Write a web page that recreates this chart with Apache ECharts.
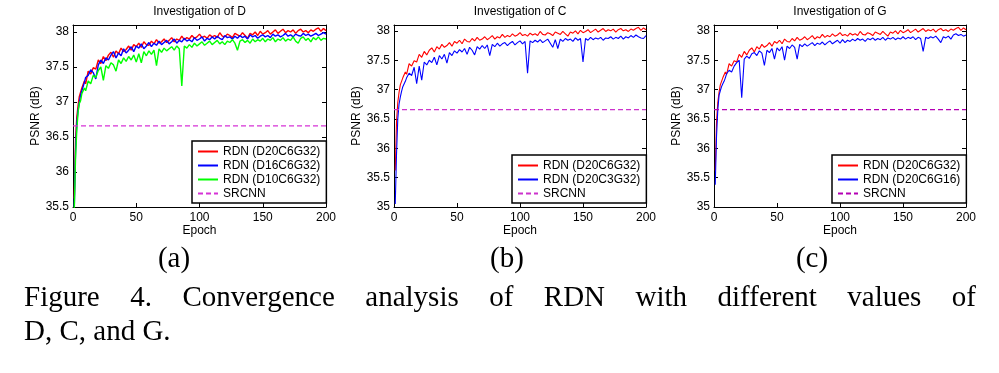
<!DOCTYPE html>
<html><head><meta charset="utf-8">
<script src="https://cdn.jsdelivr.net/npm/echarts@6/dist/echarts.min.js"></script>
<style>html,body{margin:0;padding:0;background:#fff}#c{width:999px;height:373px}</style>
</head><body><div id="c"></div><script>
// ---------------- DATA ----------------
const epochs = [1,2,3,4,5,6,7,8,9,10,
 12,14,16,18,20,22,24,26,28,30,
 32,34,36,38,40,42,44,46,48,50,
 52,54,56,58,60,62,64,66,68,70,
 72,74,76,78,80,82,84,86,88,90,
 92,94,96,98,100,102,104,106,108,110,
 112,114,116,118,120,122,124,126,128,130,
 132,134,136,138,140,142,144,146,148,150,
 152,154,156,158,160,162,164,166,168,170,
 172,174,176,178,180,182,184,186,188,190,
 192,194,196,198,200];

// RDN (D20C6G32) - the same model in all three panels
const rdnD20C6G32 = [35.62,36.45,36.78,36.95,37.08,37.06,37.2,37.22,37.3,37.26,
 37.44,37.4,37.49,37.47,37.6,37.55,37.65,37.59,37.67,37.71,
 37.64,37.73,37.69,37.77,37.72,37.75,37.8,37.74,37.82,37.79,
 37.84,37.78,37.86,37.82,37.81,37.87,37.83,37.89,37.84,37.86,
 37.9,37.85,37.88,37.92,37.86,37.9,37.88,37.94,37.89,37.92,
 37.9,37.95,37.91,37.93,37.97,37.92,37.94,37.91,37.96,37.93,
 37.95,37.92,37.99,37.94,37.93,37.97,37.95,37.92,37.98,37.96,
 37.94,37.99,37.95,37.91,37.98,37.96,38.0,37.95,38.01,37.97,
 37.99,38.02,37.97,38.0,38.03,37.98,38.01,38.04,37.99,38.02,
 38.0,38.03,37.98,38.02,38.04,38.0,38.02,37.99,38.03,38.01,
 38.04,38.06,38.01,38.05,38.02];

const rdnD16C6G32 = [35.5,36.3,36.7,36.88,36.9,37.1,37.12,37.22,37.28,37.35,
 37.38,37.46,37.42,37.33,37.53,37.6,37.55,37.63,37.6,37.67,
 37.72,37.63,37.7,37.66,37.76,37.7,37.74,37.79,37.72,37.8,
 37.77,37.83,37.76,37.8,37.85,37.79,37.84,37.81,37.87,37.82,
 37.85,37.88,37.83,37.86,37.9,37.84,37.88,37.86,37.91,37.87,
 37.89,37.86,37.92,37.88,37.9,37.93,37.87,37.91,37.89,37.93,
 37.9,37.94,37.91,37.89,37.95,37.92,37.93,37.9,37.94,37.91,
 37.95,37.92,37.94,37.9,37.96,37.93,37.95,37.91,37.94,37.96,
 37.93,37.95,37.92,37.97,37.94,37.96,37.93,37.95,37.98,37.94,
 37.96,37.93,37.97,37.95,37.94,37.98,37.95,37.97,37.94,37.96,
 37.98,37.95,37.97,37.99,37.97];

const rdnD10C6G32 = [35.45,36.2,36.6,36.85,36.98,37.02,37.12,37.1,37.2,37.16,
 37.3,37.26,37.38,37.35,37.45,37.5,37.31,37.52,37.48,37.56,
 37.53,37.44,37.6,37.55,37.63,37.58,37.65,37.6,37.67,37.57,
 37.69,37.56,37.72,37.66,37.73,37.68,37.74,37.52,37.76,37.71,
 37.77,37.73,37.76,37.79,37.74,37.8,37.76,37.23,37.8,37.77,
 37.82,37.78,37.84,37.8,37.83,37.86,37.81,37.84,37.87,37.82,
 37.85,37.88,37.83,37.86,37.82,37.87,37.85,37.89,37.84,37.74,
 37.87,37.89,37.85,37.88,37.84,37.9,37.86,37.89,37.87,37.91,
 37.86,37.9,37.88,37.92,37.86,37.9,37.88,37.92,37.87,37.9,
 37.88,37.93,37.87,37.84,37.91,37.93,37.88,37.91,37.86,37.92,
 37.89,37.93,37.88,37.91,37.9];

const rdnD20C3G32 = [35.05,35.9,36.5,36.75,36.87,36.97,37.05,37.02,37.14,37.2,
 37.28,37.24,37.38,37.1,37.4,37.16,37.47,37.42,37.5,37.46,
 37.55,37.42,37.58,37.52,37.6,37.45,37.63,37.58,37.66,37.62,
 37.68,37.64,37.7,37.6,37.72,37.67,37.59,37.73,37.69,37.75,
 37.7,37.76,37.58,37.77,37.73,37.79,37.74,37.78,37.8,37.75,
 37.79,37.82,37.76,37.8,37.83,37.78,37.82,37.28,37.83,37.8,
 37.84,37.81,37.85,37.8,37.83,37.86,37.79,37.72,37.85,37.7,
 37.86,37.82,37.87,37.84,37.86,37.82,37.88,37.84,37.87,37.47,
 37.87,37.84,37.89,37.85,37.88,37.86,37.89,37.84,37.88,37.87,
 37.9,37.86,37.89,37.87,37.91,37.86,37.9,37.88,37.92,37.89,
 37.93,37.9,37.88,37.87,37.92];

const rdnD20C6G16 = [35.38,36.2,36.65,36.9,36.98,37.05,37.1,37.14,37.2,37.27,
 37.33,37.3,37.4,37.46,37.5,36.86,37.52,37.57,37.53,37.61,
 37.63,37.58,37.66,37.62,37.41,37.67,37.63,37.7,37.52,37.71,
 37.66,37.73,37.5,37.74,37.7,37.76,37.72,37.52,37.77,37.73,
 37.78,37.74,37.77,37.8,37.75,37.79,37.77,37.81,37.76,37.8,
 37.83,37.78,37.81,37.84,37.79,37.85,37.8,37.84,37.82,37.86,
 37.83,37.87,37.84,37.86,37.82,37.87,37.85,37.88,37.84,37.87,
 37.85,37.89,37.84,37.88,37.86,37.89,37.85,37.88,37.86,37.9,
 37.86,37.89,37.87,37.9,37.85,37.89,37.87,37.65,37.89,37.87,
 37.9,37.88,37.91,37.86,37.8,37.9,37.88,37.91,37.86,37.93,
 37.95,37.92,37.94,37.91,37.93];

const srcnnEpochs = [0, 200];
const srcnnPSNR = [36.66, 36.66];

const panelTitles = ['Investigation of D', 'Investigation of C', 'Investigation of G'];
const panelLetters = ['(a)', '(b)', '(c)'];
const xTicks = {min: 0, max: 200, interval: 50};
const yTicksA = {min: 35.5, max: 38.1, interval: 0.5};
const yTicksBC = {min: 35, max: 38.1, interval: 0.5};
const captionLine1 = 'Figure 4. Convergence analysis of RDN with different values of';
const captionLine2 = 'D, C, and G.';

// ---------------- CHART ----------------
const SANS = '"Liberation Sans", Arial, Helvetica, sans-serif';
const SERIF = '"Liberation Serif", "Times New Roman", serif';
const pairs = (xs, ys) => xs.map((x, i) => [x, ys[i]]);

const grids = [
  {left: 73, top: 25, width: 253, height: 182},
  {left: 394, top: 25, width: 252, height: 182},
  {left: 714, top: 25, width: 252, height: 182}
];
const nameGaps = [29, 30, 30];

const xAxis = [], yAxis = [];
grids.forEach((g, gi) => {
  [false, true].forEach(top => {
    xAxis.push({
      type: 'value', gridIndex: gi, position: top ? 'top' : 'bottom',
      min: xTicks.min, max: xTicks.max, interval: xTicks.interval,
      axisLine: {show: true, onZero: false, lineStyle: {color: '#000', width: 1}},
      axisTick: {show: true, inside: true, length: 4, lineStyle: {color: '#000', width: 1}},
      axisLabel: {show: !top, color: '#000', fontSize: 12, fontFamily: SANS, margin: 5},
      splitLine: {show: false},
      name: top ? '' : 'Epoch', nameLocation: 'middle', nameGap: 15,
      nameTextStyle: {color: '#000', fontSize: 12, fontFamily: SANS}
    });
  });
  const yt = gi === 0 ? yTicksA : yTicksBC;
  [false, true].forEach(right => {
    yAxis.push({
      type: 'value', gridIndex: gi, position: right ? 'right' : 'left',
      min: yt.min, max: yt.max, interval: yt.interval,
      axisLine: {show: true, onZero: false, lineStyle: {color: '#000', width: 1}},
      axisTick: {show: true, inside: true, length: 4, lineStyle: {color: '#000', width: 1}},
      axisLabel: {show: !right, color: '#000', fontSize: 12, fontFamily: SANS, margin: 4,
        showMaxLabel: false,
        formatter: v => (Math.abs(v / 0.5 - Math.round(v / 0.5)) < 1e-6 ? String(+v.toFixed(1)) : '')},
      splitLine: {show: false},
      name: right ? '' : 'PSNR (dB)', nameLocation: 'middle', nameGap: nameGaps[gi], nameRotate: 90,
      nameTextStyle: {color: '#000', fontSize: 12, fontFamily: SANS}
    });
  });
});

function lineSeries(tag, name, gi, xs, ys, color, width, dashed) {
  return {
    type: 'line', name: tag + name, xAxisIndex: gi * 2, yAxisIndex: gi * 2,
    data: pairs(xs, ys), symbol: 'none', showSymbol: false, smooth: false,
    lineStyle: {color: color, width: width, type: dashed ? [5, 3] : 'solid'},
    itemStyle: {color: color}, emphasis: {disabled: true}, z: 3
  };
}

const series = [
  lineSeries('a|', 'RDN (D20C6G32)', 0, epochs, rdnD20C6G32, '#ff0000', 1.4),
  lineSeries('a|', 'RDN (D16C6G32)', 0, epochs, rdnD16C6G32, '#0000ff', 1.4),
  lineSeries('a|', 'RDN (D10C6G32)', 0, epochs, rdnD10C6G32, '#00ff00', 1.4),
  lineSeries('a|', 'SRCNN', 0, srcnnEpochs, srcnnPSNR, '#d633d6', 1.3, true),
  lineSeries('b|', 'RDN (D20C6G32)', 1, epochs, rdnD20C6G32, '#ff0000', 1.1),
  lineSeries('b|', 'RDN (D20C3G32)', 1, epochs, rdnD20C3G32, '#0000ff', 1.1),
  lineSeries('b|', 'SRCNN', 1, srcnnEpochs, srcnnPSNR, '#cc33cc', 1.2, true),
  lineSeries('c|', 'RDN (D20C6G32)', 2, epochs, rdnD20C6G32, '#ff0000', 1.1),
  lineSeries('c|', 'RDN (D20C6G16)', 2, epochs, rdnD20C6G16, '#0000ff', 1.1),
  lineSeries('c|', 'SRCNN', 2, srcnnEpochs, srcnnPSNR, '#b400b4', 1.2, true)
];

function legendFor(tag, left, top, names) {
  return {
    orient: 'vertical', left: left, top: top, padding: [4, 6, 3, 5],
    itemGap: 1, itemWidth: 20, itemHeight: 13, itemTextGap: 4,
    backgroundColor: '#fff', borderColor: '#000', borderWidth: 1.5, borderRadius: 0,
    selectedMode: false,
    itemStyle: {opacity: 0, color: 'rgba(0,0,0,0)', borderWidth: 0},
    textStyle: {color: '#000', fontSize: 12, fontFamily: SANS, lineHeight: 13},
    formatter: n => n.split('|')[1],
    data: names.map(n => tag + n)
  };
}
const legend = [
  legendFor('a|', 192, 141, ['RDN (D20C6G32)', 'RDN (D16C6G32)', 'RDN (D10C6G32)', 'SRCNN']),
  legendFor('b|', 512, 155, ['RDN (D20C6G32)', 'RDN (D20C3G32)', 'SRCNN']),
  legendFor('c|', 832, 155, ['RDN (D20C6G32)', 'RDN (D20C6G16)', 'SRCNN'])
];

// graphic texts: panel titles, sub-captions, figure caption (justified)
const graphic = [];
grids.forEach((g, gi) => {
  graphic.push({type: 'text', x: g.left + g.width / 2, y: 12, silent: true,
    style: {text: panelTitles[gi], font: '12px ' + SANS, fill: '#000', align: 'center', verticalAlign: 'middle'}});
});
const letterX = [174, 507, 812];
panelLetters.forEach((t, i) => {
  graphic.push({type: 'text', x: letterX[i], y: 259, silent: true,
    style: {text: t, font: '29px ' + SERIF, fill: '#000', align: 'center', verticalAlign: 'middle'}});
});
const CAP_FONT = '29px ' + SERIF;
const CAP_LEFT = 24, CAP_RIGHT = 976;
const ctx = document.createElement('canvas').getContext('2d');
ctx.font = CAP_FONT;
(function () {
  const words = captionLine1.split(' ');
  const widths = words.map(w => ctx.measureText(w).width);
  const total = widths.reduce((a, b) => a + b, 0);
  const gap = (CAP_RIGHT - CAP_LEFT - total) / (words.length - 1);
  let x = CAP_LEFT;
  words.forEach((w, i) => {
    graphic.push({type: 'text', x: x, y: 298, silent: true,
      style: {text: w, font: CAP_FONT, fill: '#000', align: 'left', verticalAlign: 'middle'}});
    x += widths[i] + gap;
  });
  graphic.push({type: 'text', x: CAP_LEFT, y: 332, silent: true,
    style: {text: captionLine2, font: CAP_FONT, fill: '#000', align: 'left', verticalAlign: 'middle'}});
})();

const chart = echarts.init(document.getElementById('c'), null, {renderer: 'canvas'});
chart.setOption({
  animation: false,
  backgroundColor: '#fff',
  grid: grids,
  xAxis: xAxis,
  yAxis: yAxis,
  legend: legend,
  series: series,
  graphic: graphic
});
</script></body></html>
